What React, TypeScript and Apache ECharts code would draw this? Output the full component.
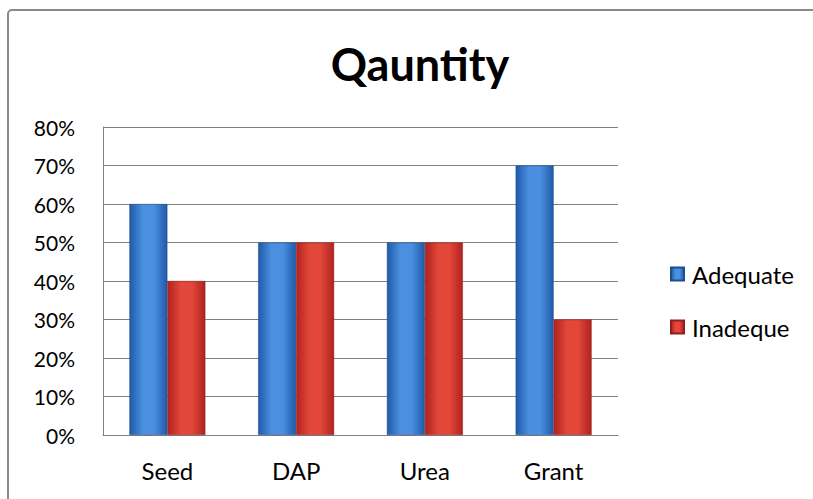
import React, { useEffect, useRef } from "react";
import * as echarts from "echarts";

const categories = ["Seed", "DAP", "Urea", "Grant"];
const adequate = [60, 50, 50, 70];
const inadequate = [40, 50, 50, 30];
const seriesNames = ["Adequate", "Inadeque"];
const titleText = "Qauntity";

const FONT = "Lato, 'Open Sans', sans-serif";

function grad(edge: string, mid: string) {
  return new echarts.graphic.LinearGradient(0, 0, 1, 0, [
    { offset: 0, color: edge },
    { offset: 0.35, color: mid },
    { offset: 0.65, color: mid },
    { offset: 1, color: edge },
  ]);
}

export default function App() {
  const ref = useRef<HTMLDivElement>(null);
  useEffect(() => {
    document.body.style.margin = "0";
    const chart = echarts.init(ref.current!, null, { renderer: "svg" });
    chart.setOption({
      animation: false,
      backgroundColor: "#ffffff",
      title: {
        text: titleText,
        left: 415,
        textAlign: "center",
        top: 36,
        textStyle: { fontFamily: FONT, fontSize: 45, fontWeight: "bold", color: "#000" },
      },
      graphic: [
        {
          type: "rect",
          shape: { x: 8, y: 10, width: 812, height: 496, r: 4 },
          style: { fill: "none", stroke: "#8a8a8a", lineWidth: 2 },
          silent: true,
        },
      ],
      legend: {
        orient: "vertical",
        left: 665,
        top: 257,
        itemWidth: 13,
        itemHeight: 13,
        itemGap: 29,
        icon: "rect",
        textStyle: { fontFamily: FONT, fontSize: 24, color: "#000", padding: [0, 0, 0, 3] },
        data: seriesNames,
      },
      grid: { left: 103, right: 195, top: 127, bottom: 64 },
      xAxis: {
        type: "category",
        data: categories,
        axisLine: { lineStyle: { color: "#808080" } },
        axisTick: { show: false },
        axisLabel: { fontFamily: FONT, fontSize: 24, color: "#000", margin: 23 },
      },
      yAxis: {
        type: "value",
        min: 0,
        max: 80,
        interval: 10,
        axisLine: { show: true, lineStyle: { color: "#808080" } },
        axisTick: { show: false },
        axisLabel: { fontFamily: FONT, fontSize: 21, color: "#000", formatter: "{value}%", margin: 28 },
        splitLine: { lineStyle: { color: "#808080" } },
      },
      series: [
        {
          name: seriesNames[0],
          type: "bar",
          data: adequate,
          barGap: "0%",
          barCategoryGap: "41%",
          itemStyle: { color: grad("#1f5aa8", "#4b8fe0"), borderColor: "#1d4f8f", borderWidth: 0.5 },
        },
        {
          name: seriesNames[1],
          type: "bar",
          data: inadequate,
          itemStyle: { color: grad("#b0221f", "#e2473a"), borderColor: "#8f1f1d", borderWidth: 0.5 },
        },
      ],
    });
    return () => chart.dispose();
  }, []);
  return <div ref={ref} style={{ width: 813, height: 499 }} />;
}
